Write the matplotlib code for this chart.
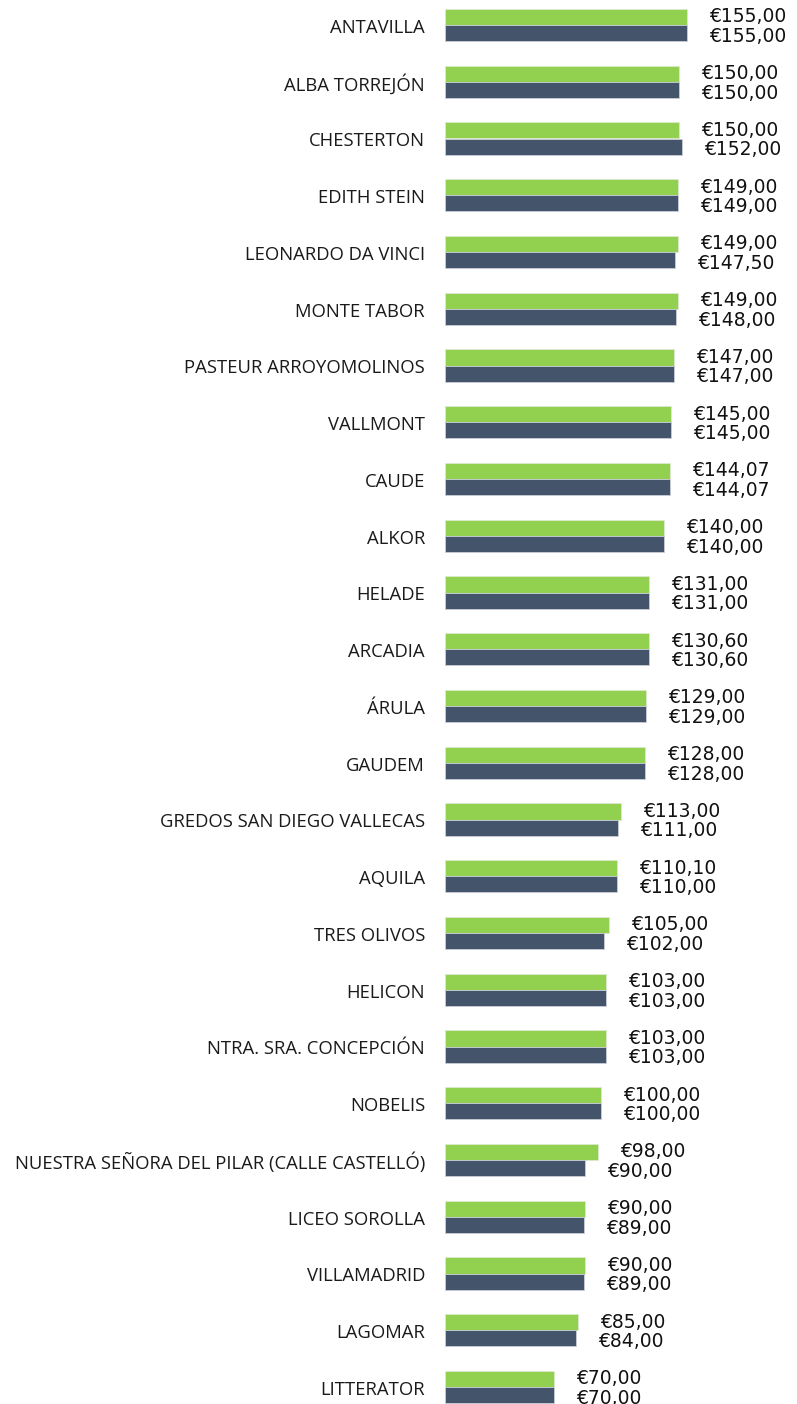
import matplotlib
matplotlib.use("Agg")
from matplotlib import pyplot as plt
import numpy as np

colegios = ["ANTAVILLA", "ALBA TORREJÓN", "CHESTERTON", "EDITH STEIN", "LEONARDO DA VINCI",
            "MONTE TABOR", "PASTEUR ARROYOMOLINOS", "VALLMONT", "CAUDE", "ALKOR", "HELADE",
            "ARCADIA", "ÁRULA", "GAUDEM", "GREDOS SAN DIEGO VALLECAS", "AQUILA", "TRES OLIVOS",
            "HELICON", "NTRA. SRA. CONCEPCIÓN", "NOBELIS",
            "NUESTRA SEÑORA DEL PILAR (CALLE CASTELLÓ)", "LICEO SOROLLA", "VILLAMADRID",
            "LAGOMAR", "LITTERATOR"]
precio_verde = [155.00, 150.00, 150.00, 149.00, 149.00, 149.00, 147.00, 145.00, 144.07, 140.00,
                131.00, 130.60, 129.00, 128.00, 113.00, 110.10, 105.00, 103.00, 103.00, 100.00,
                98.00, 90.00, 90.00, 85.00, 70.00]
precio_azul = [155.00, 150.00, 152.00, 149.00, 147.50, 148.00, 147.00, 145.00, 144.07, 140.00,
               131.00, 130.60, 129.00, 128.00, 111.00, 110.00, 102.00, 103.00, 103.00, 100.00,
               90.00, 89.00, 89.00, 84.00, 70.00]

verde = "#92D050"
azul = "#44546A"

fig = plt.figure(figsize=(7.97, 14.04), dpi=100)
ax = fig.add_axes([445/797, 0, 1 - 445/797, 1])

n = len(colegios)
y = np.arange(n)
h = 0.282
pxu = 56.75  # pixels per category

ax.barh(y - h/2, precio_verde, height=h, color=verde, edgecolor="#dfe8d0", linewidth=0.6)
ax.barh(y + h/2, precio_azul, height=h, color=azul, edgecolor="#c9ced6", linewidth=0.6)

ax.set_xlim(0, 352/1.561)
ax.set_ylim((1404 - 25)/pxu, -25/pxu)
ax.axis("off")

def euro(v):
    return "€" + ("%.2f" % v).replace(".", ",")

off = 22 / 1.561
for i in range(n):
    ax.text(precio_verde[i] + off, i - h/2, euro(precio_verde[i]), ha="left", va="center",
            fontsize=13.5, color="#111111")
    ax.text(precio_azul[i] + off, i + h/2 + 0.06, euro(precio_azul[i]), ha="left", va="center",
            fontsize=13.5, color="#111111")
    ax.text(-20/1.561, i + 0.05, colegios[i], ha="right", va="center", fontsize=13.3,
            family="Open Sans", color="#1a1a1a")

fig.savefig("out.png", dpi=100)
